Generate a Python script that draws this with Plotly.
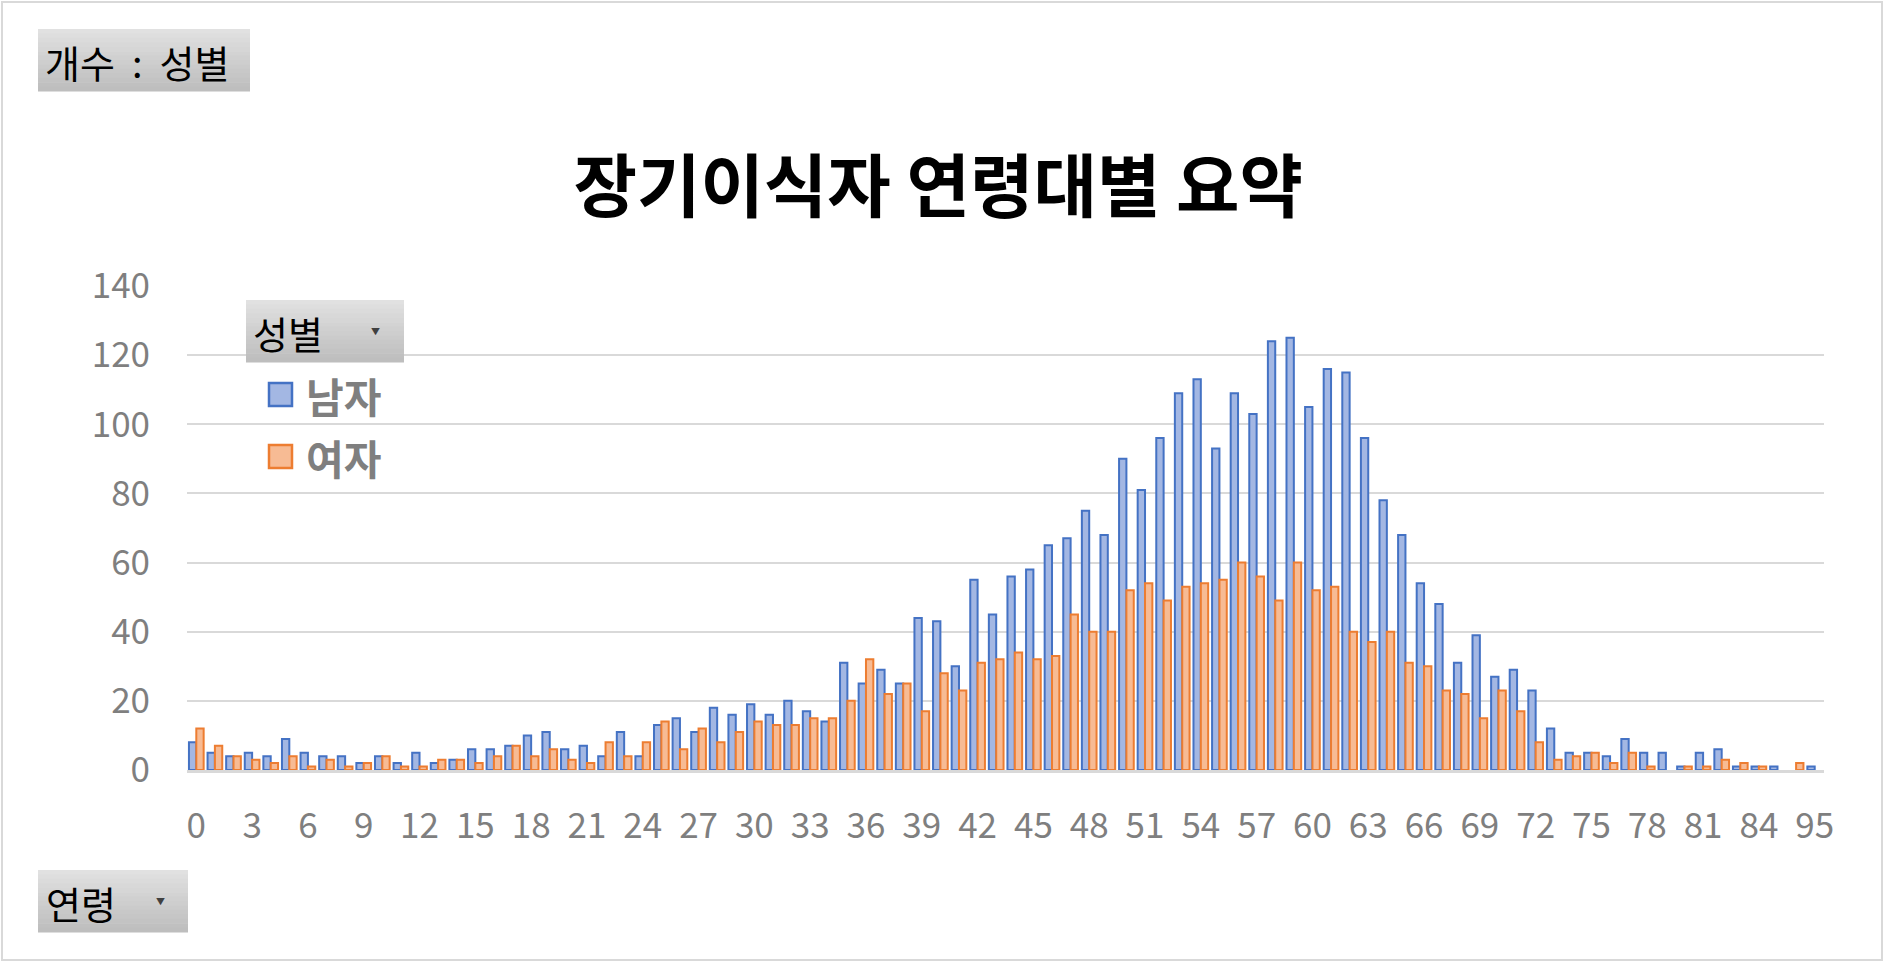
import plotly.graph_objects as go

# ages present in the pivot (85/86 are unlabeled columns between 84 and 95)
ages = [str(a) for a in range(0, 87)] + ["95"]

male = [8, 5, 4, 5, 4, 9, 5, 4, 4, 2,
        4, 2, 5, 2, 3, 6, 6, 7, 10, 11,
        6, 7, 4, 11, 4, 13, 15, 11, 18, 16,
        19, 16, 20, 17, 14, 31, 25, 29, 25, 44,
        43, 30, 55, 45, 56, 58, 65, 67, 75, 68,
        90, 81, 96, 109, 113, 93, 109, 103, 124, 125,
        105, 116, 115, 96, 78, 68, 54, 48, 31, 39,
        27, 29, 23, 12, 5, 5, 4, 9, 5, 5,
        1, 5, 6, 1, 1, 1, None, 1]

female = [12, 7, 4, 3, 2, 4, 1, 3, 1, 2,
          4, 1, 1, 3, 3, 2, 4, 7, 4, 6,
          3, 2, 8, 4, 8, 14, 6, 12, 8, 11,
          14, 13, 13, 15, 15, 20, 32, 22, 25, 17,
          28, 23, 31, 32, 34, 32, 33, 45, 40, 40,
          52, 54, 49, 53, 54, 55, 60, 56, 49, 60,
          52, 53, 40, 37, 40, 31, 30, 23, 22, 15,
          23, 17, 8, 3, 4, 5, 2, 5, 1, None,
          1, 1, 3, 2, 1, None, 2, None]

series_names = ["남자", "여자"]
title_text = "장기이식자 연령대별 요약"

FONT = "Noto Sans CJK KR"
W, H = 1884, 962
L, R, T, B = 187, 1824, 286, 770


def px(x):
    return (x - L) / (R - L)


def py(y):
    return (B - y) / (B - T)


fig = go.Figure()
fig.add_trace(go.Bar(x=ages, y=male, name=series_names[0],
                     marker=dict(color="#a3b7e3", line=dict(color="#4472c4", width=2))))
fig.add_trace(go.Bar(x=ages, y=female, name=series_names[1],
                     marker=dict(color="#f7bb94", line=dict(color="#ed7d31", width=2))))

shapes = []
annotations = []


def button(x0, y0, x1, y1):
    n = 14
    h = (y1 - y0) / n
    for i in range(n):
        g = int(225 - (225 - 190) * i / (n - 1))
        shapes.append(dict(type="rect", xref="paper", yref="paper",
                           x0=px(x0), x1=px(x1), y0=py(y0 + i * h), y1=py(y0 + (i + 1) * h + 0.6),
                           fillcolor=f"rgb({g},{g},{g})", line=dict(width=0), layer="above"))


def label(x, y, text, size, color="black", bold=False, anchor="left"):
    annotations.append(dict(xref="paper", yref="paper", x=px(x), y=py(y), text=text,
                            showarrow=False, xanchor=anchor, yanchor="middle",
                            font=dict(family=FONT, size=size, color=color,
                                      weight="bold" if bold else "normal")))


# field buttons
button(38, 29, 250, 91)
label(43, 61, "개수&nbsp;&nbsp;:&nbsp;&nbsp;성별", 38)
button(246, 300, 404, 362)
label(251, 332, "성별", 38)
label(375, 331, "▼", 9, color="#404040", anchor="center")
button(38, 870, 188, 932)
label(44, 902, "연령", 38)
label(160, 901, "▼", 9, color="#404040", anchor="center")

# legend
for i, (fc, lc) in enumerate([("#a3b7e3", "#4472c4"), ("#f7bb94", "#ed7d31")]):
    cy = 394.5 + i * 62
    shapes.append(dict(type="rect", xref="paper", yref="paper",
                       x0=px(269), x1=px(292), y0=py(cy - 11.5), y1=py(cy + 11.5),
                       fillcolor=fc, line=dict(color=lc, width=2.5), layer="above"))
    label(304, cy, series_names[i], 41, color="#7f7f7f", bold=True)

# outer frame
shapes.append(dict(type="rect", xref="paper", yref="paper",
                   x0=px(2), x1=px(W - 2), y0=py(2), y1=py(H - 2),
                   line=dict(color="#d9d9d9", width=2), layer="below"))

fig.update_layout(
    width=W, height=H, autosize=False,
    margin=dict(l=L, r=W - R, t=T, b=H - B, pad=0),
    paper_bgcolor="white", plot_bgcolor="white",
    barmode="group", bargap=0.21, bargroupgap=0,
    showlegend=False,
    title=dict(text=title_text, x=0.498, xref="container", y=1 - 188 / H,
               yref="container", xanchor="center", yanchor="middle",
               font=dict(family=FONT, size=69, color="black", weight="bold")),
    shapes=shapes, annotations=annotations,
    font=dict(family=FONT),
)
fig.update_xaxes(type="category", tickmode="array", tickvals=ages[::3],
                 tickfont=dict(family=FONT, size=35, color="#7f7f7f"),
                 showgrid=False, showline=True, linecolor="#d9d9d9", linewidth=3,
                 ticks="", ticklabelstandoff=23)
fig.update_yaxes(range=[0, 140], dtick=20, showgrid=True, gridcolor="#d9d9d9", gridwidth=2,
                 zeroline=False, showline=False,
                 tickfont=dict(family=FONT, size=35, color="#7f7f7f"),
                 ticks="", ticklabelstandoff=36)

fig.write_html("out.html", config={"displayModeBar": False},
               post_script="document.body.style.margin='0';document.body.style.overflow='hidden';")
